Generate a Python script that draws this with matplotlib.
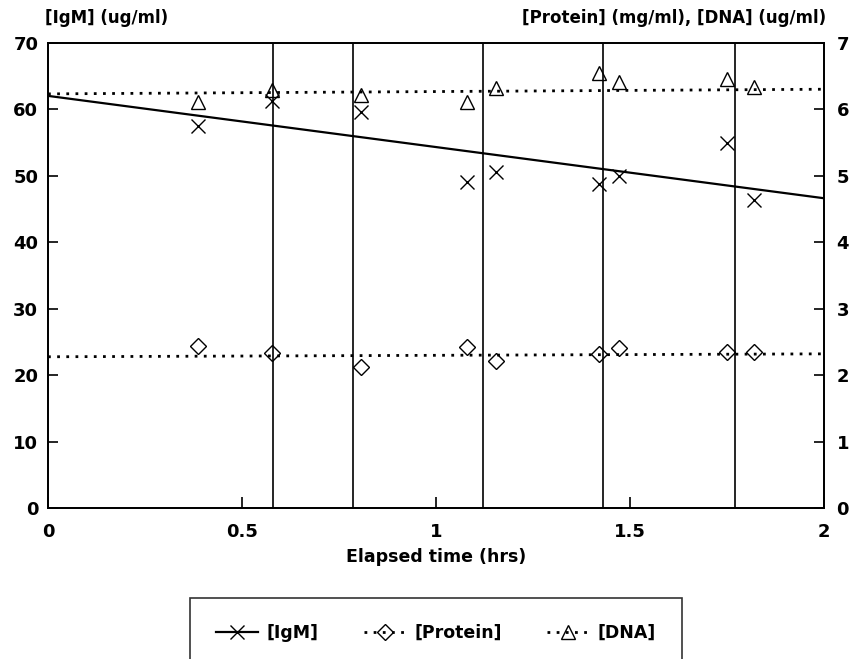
import numpy as np
import matplotlib.pyplot as plt
from matplotlib.lines import Line2D

plt.rcParams['font.family'] = 'DejaVu Sans'
plt.rcParams['font.weight'] = 'bold'

# sample times (hrs) and measured concentrations
time = [0.387, 0.578, 0.806, 1.081, 1.155, 1.421, 1.471, 1.751, 1.820]
igm = [57.4, 61.3, 59.6, 49.1, 50.5, 48.7, 49.9, 54.9, 46.3]
protein = [2.43, 2.33, 2.12, 2.42, 2.21, 2.32, 2.41, 2.34, 2.34]
dna = [6.11, 6.29, 6.21, 6.11, 6.32, 6.55, 6.41, 6.46, 6.33]

# fitted lines: (intercept, slope)
igm_fit = (62.0, -7.7)
protein_fit = (2.275, 0.022)
dna_fit = (6.23, 0.035)

# times of the vertical markers
event_times = [0.580, 0.786, 1.121, 1.430, 1.771]

xticks = [0, 0.5, 1, 1.5, 2]
xticklabels = ['0', '0.5', '1', '1.5', '2']

fig = plt.figure(figsize=(8.52, 6.59), dpi=100)
ax = fig.add_axes([48 / 852, 1 - 508 / 659, 776 / 852, (508 - 42.7) / 659])
ax2 = ax.twinx()

dotted = (0, (1, 2.3))
mk = dict(color='black', markerfacecolor='none', markeredgecolor='black',
          linestyle='none', markeredgewidth=1.0)

fx = np.array([0.0, 2.0])
ax.plot(fx, igm_fit[0] + igm_fit[1] * fx, color='black', lw=1.6)
ax.plot(time, igm, marker='x', markersize=10, **mk)

ax2.plot(fx, protein_fit[0] + protein_fit[1] * fx, color='black', lw=2.0, linestyle=dotted)
ax2.plot(fx, dna_fit[0] + dna_fit[1] * fx, color='black', lw=2.0, linestyle=dotted)
ax2.plot(time, protein, marker='D', markersize=8.5, **mk)
ax2.plot(time, dna, marker='^', markersize=10.5, **mk)

for t in event_times:
    ax.axvline(t, color='black', lw=1.2)

ax.set_xlim(0, 2)
ax.set_ylim(0, 70)
ax2.set_ylim(0, 7)
ax.set_xticks(xticks)
ax.set_xticklabels(xticklabels)
ax.set_yticks(range(0, 71, 10))
ax2.set_yticks(range(0, 8))

ax.tick_params(axis='x', direction='in', length=8, width=1.2, pad=11,
               labelsize=13, top=False)
ax.tick_params(axis='y', direction='in', length=7, width=1.2, pad=7, labelsize=13)
ax2.tick_params(axis='y', direction='in', length=7, width=1.2, pad=9, labelsize=13)
for a in (ax, ax2):
    for s in a.spines.values():
        s.set_linewidth(1.3)

ax.set_xlabel('Elapsed time (hrs)', fontsize=12.5, fontweight='bold', labelpad=5)
fig.text(45 / 852, 1 - 18 / 659, '[IgM] (ug/ml)', fontsize=12, fontweight='bold',
         ha='left', va='center')
fig.text(826 / 852, 1 - 18 / 659, '[Protein] (mg/ml), [DNA] (ug/ml)', fontsize=12,
         fontweight='bold', ha='right', va='center')

handles = [
    Line2D([], [], color='black', lw=1.6, marker='x', markersize=10,
           markeredgewidth=1.0),
    Line2D([], [], color='black', lw=2.0, linestyle=dotted, marker='D', markersize=8.5,
           markerfacecolor='none', markeredgewidth=1.0),
    Line2D([], [], color='black', lw=2.0, linestyle=dotted, marker='^', markersize=10.5,
           markerfacecolor='none', markeredgewidth=1.0),
]
leg = fig.legend(handles, ['[IgM]', '[Protein]', '[DNA]'], ncol=3,
                 loc='upper center', bbox_to_anchor=(436 / 852, 1 - 598 / 659),
                 fontsize=12.5, frameon=True, fancybox=False, borderpad=1.5,
                 handlelength=2.4, handletextpad=0.5, columnspacing=2.6,
                 borderaxespad=0)
leg.get_frame().set_edgecolor('black')
leg.get_frame().set_linewidth(1.2)

fig.savefig('out.png', dpi=100)
